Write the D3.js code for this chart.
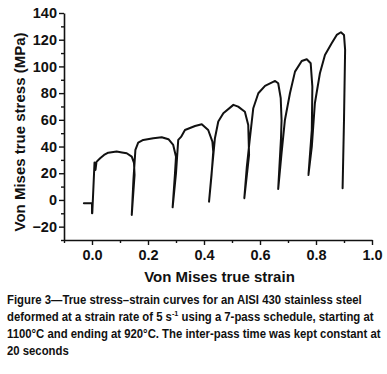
<!DOCTYPE html>
<html><head><meta charset="utf-8">
<script src="https://cdn.jsdelivr.net/npm/d3@7"></script>
<style>body{margin:0;background:#fff}svg{display:block}text{font-family:"Liberation Sans",Arial,sans-serif}</style>
</head><body>
<svg id="c" width="387" height="374"></svg>
<script>
// Continuous stress–strain record (7 passes)
const strain = [
 -0.029,0.000,0.000,0.001,0.009,0.0125,0.016,0.029,0.043,0.058,0.088,0.107,0.124,0.142,0.150,0.152,0.142,
 0.148,0.155,0.165,0.183,0.219,0.249,0.273,0.290,0.300,0.296,0.288,
 0.300,0.308,0.318,0.332,0.368,0.392,0.415,0.430,0.433,0.427,0.418,
 0.428,0.439,0.451,0.469,0.505,0.522,0.546,0.558,0.561,0.544,
 0.553,0.564,0.576,0.594,0.618,0.654,0.665,0.674,0.677,0.675,0.665,
 0.677,0.689,0.707,0.725,0.749,0.767,0.781,0.787,0.785,0.773,
 0.785,0.796,0.814,0.832,0.856,0.874,0.889,0.900,0.904,0.900,0.895
];
const stress = [
 -2.5,-2.5,-10,-10,28,22.5,28.5,31.2,33.7,35.4,36.2,35.6,35.0,32.4,27.7,18.7,-11.2,
 15,37.5,42.9,44.9,46.2,47.0,45.5,41.2,32.4,18.7,-5.5,
 20,45,47.2,52.4,55.4,56.7,52.4,43.7,36.2,18.7,-1.3,
 22,46.2,58.7,64.9,71.2,69.9,66.1,56.2,33.7,1.3,
 25,46.4,68.7,79.9,85.4,89.1,87.4,76.2,59.9,46.4,8.2,
 35,59.9,79.9,96.1,104.1,105.4,102.4,84.9,52.4,18.7,
 39.9,72.4,94.9,108.6,117.4,123.6,125.6,123.6,112.4,59.9,8.8
];
const xTicks = [0.0,0.2,0.4,0.6,0.8,1.0];
const xMinor = [-0.1,0.1,0.3,0.5,0.7,0.9];
const yTicks = [-20,0,20,40,60,80,100,120,140];
const yMinor = [-30,-10,10,30,50,70,90,110,130];
const xTitle = "Von Mises true strain";
const yTitle = "Von Mises true stress (MPa)";
const caption = [
 "Figure 3\u2014True stress\u2013strain curves for an AISI 430 stainless steel",
 ["deformed at a strain rate of 5 s", "-1", " using a 7-pass schedule, starting at"],
 "1100\u00b0C and ending at 920\u00b0C. The inter-pass time was kept constant at",
 "20 seconds"
];

const svg = d3.select("#c");
const x = d3.scaleLinear().domain([-0.1,1.0]).range([64,372]);
const y = d3.scaleLinear().domain([-30,140]).range([240,13]);
const col = "#111";

// axes
const gx = svg.append("g").attr("transform","translate(0,240)")
  .call(d3.axisBottom(x).tickValues(xTicks).tickFormat(d3.format(".1f")).tickSize(5).tickSizeOuter(0));
const gxm = svg.append("g").attr("transform","translate(0,240)")
  .call(d3.axisBottom(x).tickValues(xMinor).tickFormat("").tickSize(3).tickSizeOuter(0));
const gy = svg.append("g").attr("transform","translate(64,0)")
  .call(d3.axisLeft(y).tickValues(yTicks).tickFormat(d3.format("d")).tickSize(5).tickSizeOuter(0));
const gym = svg.append("g").attr("transform","translate(64,0)")
  .call(d3.axisLeft(y).tickValues(yMinor).tickFormat("").tickSize(3).tickSizeOuter(0));
[gx,gxm,gy,gym].forEach(g=>{
  g.selectAll("path").attr("stroke",col).attr("stroke-width",1.6);
  g.selectAll("line").attr("stroke",col).attr("stroke-width",1.4);
  g.selectAll("text").attr("fill",col).style("font-size","14.5px").style("font-weight","bold")
   .style("font-family","'Liberation Sans',Arial,sans-serif");
});
gxm.select("path").remove(); gym.select("path").remove();
gx.selectAll("text").attr("dy","0.95em").attr("y",6);
gy.selectAll("text").attr("x",-7);

// curve
const pts = strain.map((s,i)=>[s,stress[i]]);
svg.append("path").datum(pts)
  .attr("fill","none").attr("stroke",col).attr("stroke-width",2)
  .attr("stroke-linejoin","round").attr("stroke-linecap","round")
  .attr("d", d3.line().x(d=>x(d[0])).y(d=>y(d[1])));

// titles
svg.append("text").attr("x",219.5).attr("y",282).attr("text-anchor","middle")
  .attr("fill",col).style("font-size","15px").style("font-weight","bold").text(xTitle);
svg.append("text").attr("transform","translate(25,132) rotate(-90)").attr("text-anchor","middle")
  .attr("fill",col).style("font-size","15px").style("font-weight","bold").text(yTitle);

// caption (horizontally condensed to match the reference)
const cap = svg.append("g").attr("fill",col).style("font-size","12.5px").style("font-weight","bold");
const t1 = cap.append("text").attr("x",0).attr("y",304).text(caption[0]);
const k = 355 / t1.node().getComputedTextLength();
cap.attr("transform",`translate(7,0) scale(${k},1)`);
const t2 = cap.append("text").attr("x",0).attr("y",321);
t2.append("tspan").text(caption[1][0]);
t2.append("tspan").attr("dy",-4.5).style("font-size","8px").text(caption[1][1]);
t2.append("tspan").attr("dy",4.5).text(caption[1][2]);
cap.append("text").attr("x",0).attr("y",338).text(caption[2]);
cap.append("text").attr("x",0).attr("y",355).text(caption[3]);
</script>
</body></html>
